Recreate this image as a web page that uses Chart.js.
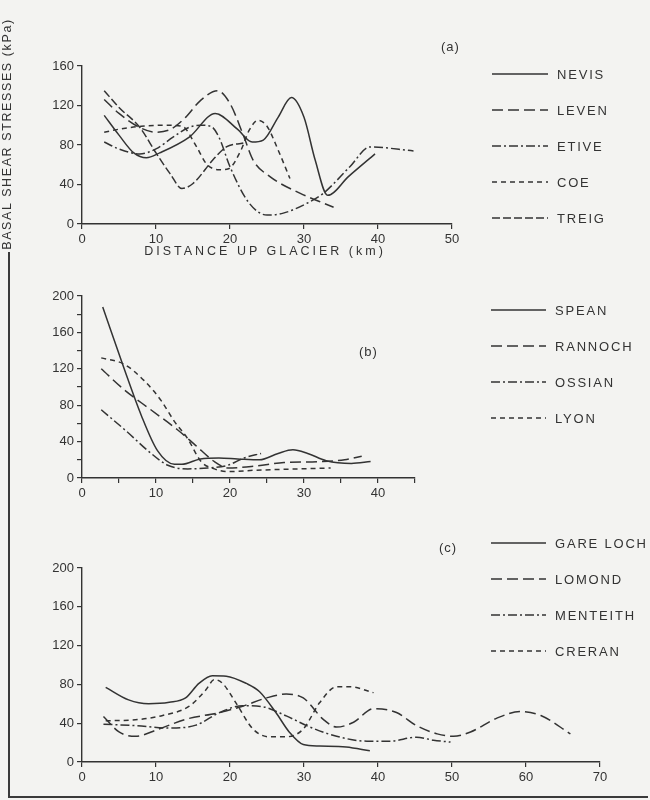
<!DOCTYPE html>
<html><head><meta charset="utf-8">
<script src="https://cdn.jsdelivr.net/npm/chart.js@4.4.0/dist/chart.umd.min.js"></script>
<style>
html,body{margin:0;padding:0;background:#f3f3f1;}
#wrap{position:relative;width:650px;height:800px;overflow:hidden;background:#f3f3f1;font-family:"Liberation Sans",Arial,sans-serif;color:#333;}
canvas{position:absolute;left:0;}
.t{position:absolute;white-space:nowrap;color:#333;}
.ln{position:absolute;background:#3a3a3a;}
</style></head><body>
<div id="wrap">
<canvas id="ca" width="650" height="262" style="top:0px"></canvas>
<canvas id="cb" width="650" height="250" style="top:262px"></canvas>
<canvas id="cc" width="650" height="288" style="top:512px"></canvas>
<div class="t" id="ytitle" style="left:-113px;top:126px;width:240px;height:16px;line-height:16px;text-align:center;font-size:12.5px;letter-spacing:1.6px;transform:rotate(-90deg);">BASAL SHEAR STRESSES (kPa)</div>
<div class="t" style="left:115px;top:244px;width:300px;text-align:center;font-size:12.5px;letter-spacing:3px;">DISTANCE UP GLACIER (km)</div>
<div class="t" style="left:441px;top:39px;font-size:13px;letter-spacing:1px;">(a)</div>
<div class="t" style="left:359px;top:344px;font-size:13px;letter-spacing:1px;">(b)</div>
<div class="t" style="left:439px;top:540px;font-size:13px;letter-spacing:1px;">(c)</div>
<div class="ln" style="left:8px;top:252px;width:1.5px;height:546px;"></div>
<div class="ln" style="left:8px;top:796px;width:640px;height:1.5px;"></div>
</div>
<script>
// ---------- data ----------
// Panel (a)
const aNames = ['NEVIS','LEVEN','ETIVE','COE','TREIG'];
const NEVIS = [[3,110],[5,90],[7,72],[8.7,67],[10.5,72],[14.5,88],[18,112],[21,96],[23,83],[24.5,85],[26.5,108],[28.3,128],[30,108],[31.5,65],[33.2,29],[36,48],[39.6,71]];
const LEVEN = [[3,126],[5,112],[8,97],[10,93],[12,96],[14,108],[16,125],[18.3,135],[20,122],[21.8,90],[23.1,65],[25.4,48],[29.5,31],[32,23],[34,17]];
const ETIVE = [[3,83],[5,76],[7.8,71],[10,76],[12.3,88],[14.5,98],[16,100],[17.4,99],[18.5,88],[20,58],[22.5,22],[25,9],[27.2,11],[30.4,21],[32.6,31],[36.2,58],[38.9,78],[44.8,74]];
const COE = [[3,93],[5,96],[8,99],[11,100],[13.5,99],[15.5,78],[16.8,61],[18.5,55],[19.8,56],[21.5,75],[22.6,95],[23.8,105],[25,99],[26.5,75],[28.1,46]];
const TREIG = [[3,135],[5,118],[7.8,98],[10,72],[11.9,51],[13.5,36],[15,41],[17.7,65],[19.5,78],[21.8,82]];
const aXTicks = [0,10,20,30,40,50];
const aXLabels = [0,10,20,30,40,50];
const aYTicks = [0,40,80,120,160];
const aYLabels = [0,40,80,120,160];

// Panel (b)
const bNames = ['SPEAN','RANNOCH','OSSIAN','LYON'];
const SPEAN = [[2.8,188],[5.7,120],[8,69],[10.2,30],[12.5,15],[13.5,15],[16,21],[18.5,22],[21,21],[24,20],[26.5,27],[28.5,31],[30.5,27],[33,19],[36.4,16],[39,18]];
const RANNOCH = [[2.6,120],[5.7,97],[9.3,75],[12.9,53],[15.2,37],[17.9,18],[19.7,11],[23.3,13],[27.3,17],[31.8,18],[35.5,20],[37.8,24]];
const OSSIAN = [[2.6,75],[6.2,50],[8.9,30],[11.6,14],[14.3,10],[17,11],[19.7,14],[21.9,22],[24.2,27]];
const LYON = [[2.6,132],[5.7,125],[8.4,107],[10.7,85],[12.5,62],[14.3,43],[16.1,18],[17.9,10],[19.7,7],[23.3,8.5],[27.3,9.5],[33.6,11]];
const bXTicks = [0,5,10,15,20,25,30,35,40,45];
const bXLabels = [0,10,20,30,40];
const bYTicks = [0,20,40,60,80,100,120,140,160,180,200];
const bYLabels = [0,40,80,120,160,200];

// Panel (c)
const cNames = ['GARE LOCH','LOMOND','MENTEITH','CRERAN'];
const GARE_LOCH = [[3.2,77],[6.3,64],[9,60],[11.8,61.5],[14,66],[15.8,81],[17.6,89],[19.5,88.5],[22.2,81],[24,72.5],[26.2,51],[28,31],[29.9,18],[32.1,16.5],[35.7,15.5],[38.9,11.5]];
const LOMOND = [[2.9,47],[5,31],[7.2,26.5],[10.4,34],[14,44],[18.6,51],[21.7,57.5],[24.9,66],[27.6,70],[29.9,66],[32.6,44],[34.4,36],[36.7,41],[39.4,55],[42.5,51],[45.2,37.5],[48,29],[50.2,26.5],[52.5,31],[56,45],[59.2,52],[62,48],[66,29]];
const MENTEITH = [[2.9,39],[7.2,37.5],[11.8,35],[15.4,38],[18.6,51],[21.7,58],[24.4,57],[27.6,47.5],[30.8,36],[34.4,26.5],[38.5,21.5],[41.6,21.5],[45.2,25.5],[47.5,22.5],[49.8,20.5]];
const CRERAN = [[3.2,42.5],[7.2,43.5],[10.9,48],[14.5,57.5],[16.7,74],[17.9,85],[19,81],[20.8,61],[23.1,34],[25.3,26],[27.6,26],[29.9,34],[32.1,61],[34.4,77.5],[36.2,77.5],[39.4,71.5]];
const cXTicks = [0,10,20,30,40,50,60,70];
const cXLabels = [0,10,20,30,40,50,60,70];
const cYTicks = [0,40,80,120,160,200];
const cYLabels = [0,40,80,120,160,200];

// ---------- styles ----------
const INK = '#333333';
const DASH = {
  solid: [],
  long: [11,5],
  dashdot: [9,3,2,3],
  short: [5,4],
  medium: [8,3]
};
const FONT = {family:'"Liberation Sans", Arial, sans-serif', size:13};

const sideLegend = {
  id:'sideLegend',
  afterDraw(chart, args, o){
    const ctx = chart.ctx;
    chart.data.datasets.forEach((ds,i)=>{
      const y = o.y0 + i*o.step;
      ctx.save();
      ctx.strokeStyle = ds.borderColor; ctx.lineWidth = 1.3;
      ctx.setLineDash(ds.borderDash||[]);
      ctx.beginPath(); ctx.moveTo(o.x0,y); ctx.lineTo(o.x1,y); ctx.stroke();
      ctx.setLineDash([]);
      ctx.fillStyle = INK;
      ctx.font = '13px "Liberation Sans", Arial, sans-serif';
      ctx.letterSpacing = '1.8px';
      ctx.textBaseline = 'middle';
      ctx.fillText(ds.label, o.tx, y+1);
      ctx.restore();
    });
  }
};

function ds(label, pts, dash){
  return {
    label, data: pts.map(p=>({x:p[0], y:p[1]})),
    borderColor: INK, borderWidth: 1.5, borderDash: DASH[dash],
    pointRadius: 0, fill:false, cubicInterpolationMode:'monotone'
  };
}

function axis(ticksArr, labels, min, max, fitFn){
  return {
    type:'linear', min, max,
    afterBuildTicks: s => { s.ticks = ticksArr.map(v=>({value:v})); },
    afterFit: fitFn,
    ticks:{ autoSkip:false, maxRotation:0, font:FONT, color:INK, padding:3,
      callback: v => labels.includes(v) ? String(v) : '' },
    grid:{ drawOnChartArea:false, drawTicks:true, tickLength:5, color:INK, lineWidth:1.2 },
    border:{ display:true, color:INK, width:1.4 }
  };
}

function make(id, datasets, xt, xl, xmax, yt, yl, ymax, pad, xH, leg){
  new Chart(document.getElementById(id), {
    type:'line',
    data:{ datasets },
    options:{
      responsive:false, animation:false, devicePixelRatio:1,
      layout:{ padding: pad },
      scales:{
        x: axis(xt, xl, 0, xmax, s=>{ s.height = xH; }),
        y: axis(yt, yl, 0, ymax, s=>{ s.width = 82; })
      },
      plugins:{ legend:{display:false}, tooltip:{enabled:false}, sideLegend: leg }
    },
    plugins:[sideLegend]
  });
}

make('ca', [
  ds(aNames[0], NEVIS, 'solid'),
  ds(aNames[1], LEVEN, 'long'),
  ds(aNames[2], ETIVE, 'dashdot'),
  ds(aNames[3], COE, 'short'),
  ds(aNames[4], TREIG, 'medium')
], aXTicks, aXLabels, 50, aYTicks, aYLabels, 160,
 {left:0, top:66, right:198, bottom:0}, 38,
 {x0:492, x1:548, tx:557, y0:74, step:36});

make('cb', [
  ds(bNames[0], SPEAN, 'solid'),
  ds(bNames[1], RANNOCH, 'long'),
  ds(bNames[2], OSSIAN, 'dashdot'),
  ds(bNames[3], LYON, 'short')
], bXTicks, bXLabels, 45, bYTicks, bYLabels, 200,
 {left:0, top:34, right:235, bottom:0}, 34,
 {x0:491, x1:546, tx:555, y0:48, step:36});

make('cc', [
  ds(cNames[0], GARE_LOCH, 'solid'),
  ds(cNames[1], LOMOND, 'long'),
  ds(cNames[2], MENTEITH, 'dashdot'),
  ds(cNames[3], CRERAN, 'short')
], cXTicks, cXLabels, 70, cYTicks, cYLabels, 200,
 {left:0, top:56, right:50, bottom:0}, 38,
 {x0:491, x1:546, tx:555, y0:31, step:36});
</script>
</body></html>
